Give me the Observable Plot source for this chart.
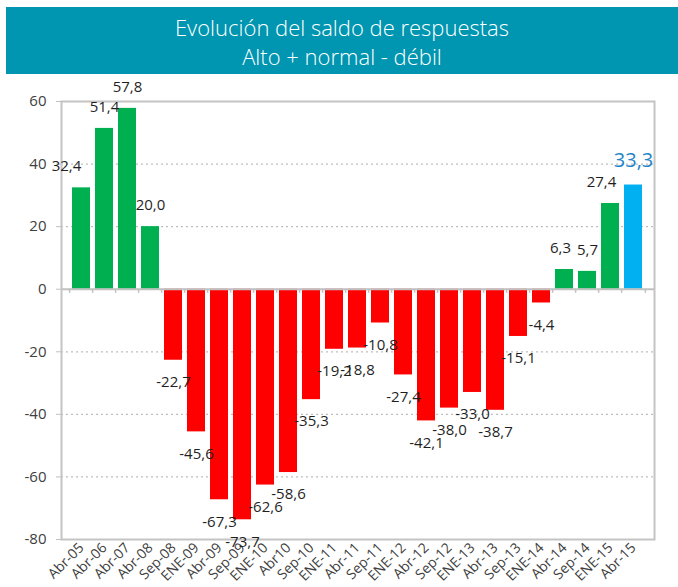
<!DOCTYPE html>
<html><head><meta charset="utf-8">
<script src="https://cdn.jsdelivr.net/npm/d3@7"></script>
<script src="https://cdn.jsdelivr.net/npm/@observablehq/plot@0.6"></script>
<style>
body{margin:0;background:#fff;width:678px;height:587px;position:relative;overflow:hidden;font-family:"Open Sans",sans-serif}
#banner{position:absolute;left:6px;top:7px;width:672px;height:67px;background:#0095b0;color:#fff;text-align:center;font-weight:300;font-size:22px;line-height:29px;padding-top:6px;box-sizing:border-box}
#chart{position:absolute;left:0;top:74px}
</style></head><body>
<div id="banner"><div>Evolución del saldo de respuestas</div><div>Alto + normal - débil</div></div>
<div id="chart"></div>
<script>
const periods = ["Abr-05","Abr-06","Abr-07","Abr-08","Sep-08","ENE-09","Abr-09","Sep-09","ENE-10","Abr10","Sep-10","ENE-11","Abr-11","Sep-11","ENE-12","Abr-12","Sep-12","ENE-13","Abr-13","Sep-13","ENE-14","Abr-14","Sep-14","ENE-15","Abr-15"];
const values = [32.4,51.4,57.8,20.0,-22.7,-45.6,-67.3,-73.7,-62.6,-58.6,-35.3,-19.2,-18.8,-10.8,-27.4,-42.1,-38.0,-33.0,-38.7,-15.1,-4.4,6.3,5.7,27.4,33.3];
const yTicks = [-80,-60,-40,-20,0,20,40,60];
const gridTicks = [-60,-40,-20,20,40];

const data = periods.map((p,i)=>({period:p, value:values[i], i}));
const last = data.length - 1;
const fmt = v => d3.format(".1f")(v).replace(".", ",").replace("\u2212","-");
const fillOf = d => d.i === last ? "#00b0f0" : (d.value >= 0 ? "#00b050" : "#ff0000");
const step = 594 / periods.length;

const posNormal = data.filter(d => d.value >= 0 && d.i !== 0 && d.i !== last - 3 && d.i !== last - 1 && d.i !== last);
const negs = data.filter(d => d.value < 0);
const first = data.filter(d => d.i === 0);
const leftSmall = data.filter(d => d.i === last - 3);
const beforeLast = data.filter(d => d.i === last - 1);
const highlight = data.filter(d => d.i === last);
const lbl = {x: "period", y: "value", text: d => fmt(d.value), fontSize: 15, fill: "#1f1f1f"};

const chart = Plot.plot({
  width: 678, height: 513,
  marginLeft: 61, marginRight: 24, marginTop: 27, marginBottom: 48,
  style: {fontFamily: '"Open Sans", sans-serif', background: "transparent", color: "#404040"},
  x: {domain: periods, paddingInner: 0.2, paddingOuter: 0.1, label: null},
  y: {domain: [-80, 60], label: null},
  marks: [
    Plot.ruleY(gridTicks, {stroke: "#bfbfbf", strokeDasharray: "2,3", strokeWidth: 1.2}),
    Plot.barY(data, {x: "period", y: "value", fill: fillOf}),
    Plot.ruleY([0], {stroke: "#c0c0c0", strokeWidth: 2}),
    Plot.ruleX(periods, {x: d => d, y1: 0, y2: -1.3, dx: -step/2, stroke: "#c0c0c0", strokeWidth: 1.5}),
    Plot.ruleX([periods[last]], {x: d => d, y1: 0, y2: -1.3, dx: step/2, stroke: "#c0c0c0", strokeWidth: 1.5}),
    Plot.frame({stroke: "#c4c4c4", strokeWidth: 2}),
    Plot.axisY(yTicks, {tickSize: 5, tickPadding: 10, fontSize: 15, stroke: "#c0c0c0", fill: "#404040", tickFormat: d => String(d)}),
    Plot.axisX({tickRotate: -45, tickSize: 0, tickPadding: 6, fontSize: 14, fill: "#404040"}),
    Plot.text(posNormal, {...lbl, dy: -21}),
    Plot.text(first, {...lbl, dy: -22, dx: -15}),
    Plot.text(leftSmall, {...lbl, dy: -21, dx: -4}),
    Plot.text(beforeLast, {...lbl, dy: -21, dx: -9}),
    Plot.text(negs, {...lbl, dy: 22}),
    Plot.text(highlight, {...lbl, dy: -24, fontSize: 20, fill: "#2483c8"})
  ]
});
document.getElementById("chart").appendChild(chart);
</script>
</body></html>
